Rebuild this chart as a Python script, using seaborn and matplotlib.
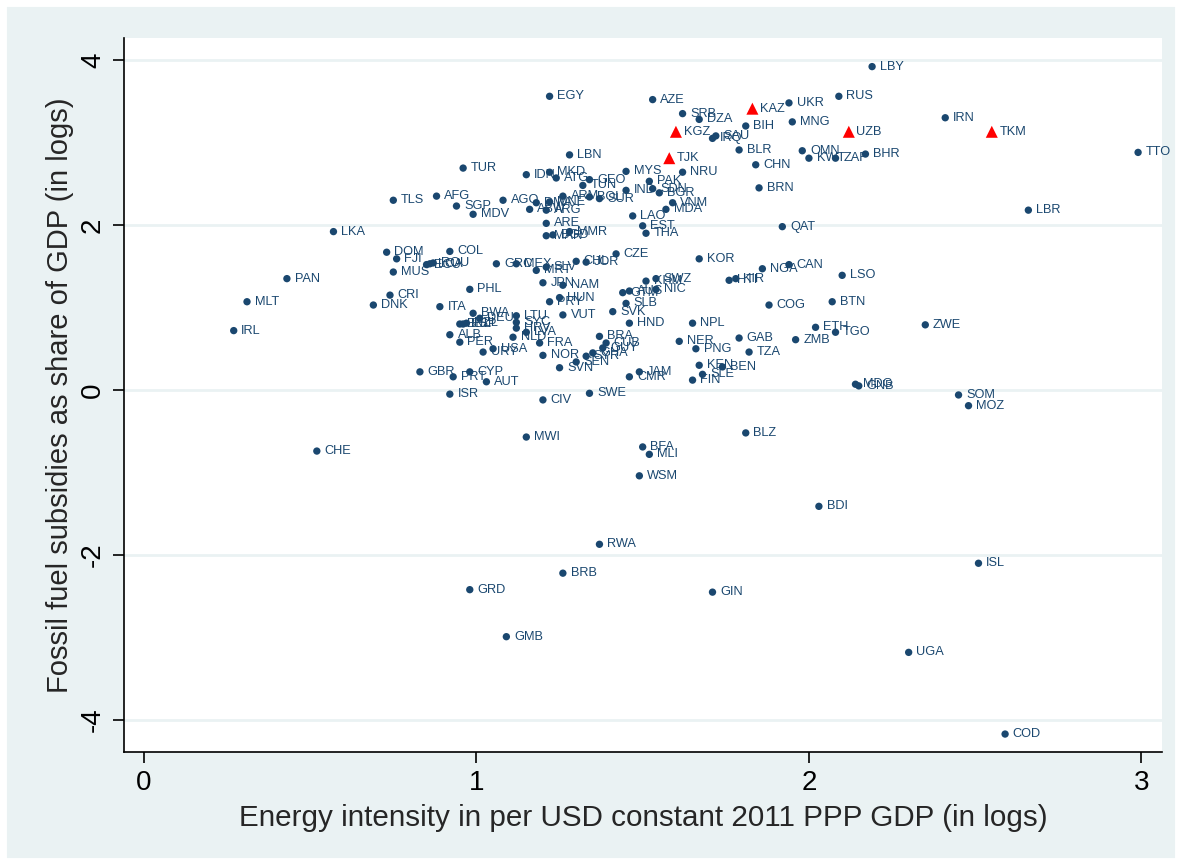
import pandas as pd
import matplotlib.pyplot as plt
import seaborn as sns
from matplotlib.patches import Rectangle

# country codes, energy intensity (x, logs) and fossil fuel subsidies (y, logs)
codes = ['LBY', 'RUS', 'UKR', 'EGY', 'AZE', 'SRB', 'DZA', 'MNG', 'IRN', 'BIH',
         'SAU', 'IRQ', 'BLR', 'OMN', 'TTO', 'KWT', 'ZAF', 'BHR', 'LBN', 'CHN',
         'TUR', 'NRU', 'MYS', 'MKD', 'IDN', 'ATG', 'GEO', 'PAK', 'TUN', 'BRN',
         'IND', 'SDN', 'BGR', 'ARM', 'BOL', 'SUR', 'DMA', 'MNE', 'ABW', 'ARG',
         'VNM', 'MDA', 'AGO', 'AFG', 'TLS', 'SGP', 'MDV', 'LAO', 'EST', 'THA',
         'ARE', 'MAR', 'BGD', 'MMR', 'LKA', 'QAT', 'LBR', 'DOM', 'COL', 'FJI',
         'CZE', 'KOR', 'ECU', 'LCA', 'ROU', 'MUS', 'CRI', 'DNK', 'PAN', 'MLT',
         'IRL', 'CHE', 'GRD', 'GMB', 'BRB', 'RWA', 'GIN', 'UGA', 'COD', 'ISL',
         'BDI', 'BLZ', 'SOM', 'MOZ', 'MDG', 'GNB', 'ZWE', 'MWI', 'BFA', 'MLI',
         'WSM', 'CIV', 'SWE', 'ISR', 'GBR', 'PRT', 'CYP', 'AUT', 'CMR', 'JAM',
         'FIN', 'SLE', 'KEN', 'BEN', 'PNG', 'TZA', 'GAB', 'ZMB', 'ETH', 'TGO',
         'NER', 'NPL', 'COG', 'BTN', 'LSO', 'NGA', 'CAN', 'HTI', 'KIR', 'HND',
         'SVK', 'SLB', 'GTM', 'AUS', 'NIC', 'KHM', 'SWZ', 'HUN', 'PRY', 'JPN',
         'NAM', 'VUT', 'GRC', 'MEX', 'MRT', 'SLV', 'CHL', 'JOR', 'PHL', 'ITA',
         'BWA', 'DEU', 'LTU', 'SYC', 'HRV', 'BEL', 'ESP', 'NZL', 'ALB', 'PER',
         'URY', 'USA', 'NLD', 'LVA', 'FRA', 'NOR', 'SVN', 'SEN', 'BRA', 'CUB',
         'GUY', 'GHA', 'SYR']
energy = [2.19, 2.09, 1.94, 1.22, 1.53, 1.62, 1.67, 1.95, 2.41, 1.81,
          1.72, 1.71, 1.79, 1.98, 2.99, 2.00, 2.08, 2.17, 1.28, 1.84,
          0.96, 1.62, 1.45, 1.22, 1.15, 1.24, 1.34, 1.52, 1.32, 1.85,
          1.45, 1.53, 1.55, 1.26, 1.34, 1.37, 1.18, 1.22, 1.16, 1.21,
          1.59, 1.57, 1.08, 0.88, 0.75, 0.94, 0.99, 1.47, 1.50, 1.51,
          1.21, 1.21, 1.23, 1.28, 0.57, 1.92, 2.66, 0.73, 0.92, 0.76,
          1.42, 1.67, 0.85, 0.86, 0.87, 0.75, 0.74, 0.69, 0.43, 0.31,
          0.27, 0.52, 0.98, 1.09, 1.26, 1.37, 1.71, 2.30, 2.59, 2.51,
          2.03, 1.81, 2.45, 2.48, 2.14, 2.15, 2.35, 1.15, 1.50, 1.52,
          1.49, 1.20, 1.34, 0.92, 0.83, 0.93, 0.98, 1.03, 1.46, 1.49,
          1.65, 1.68, 1.67, 1.74, 1.66, 1.82, 1.79, 1.96, 2.02, 2.08,
          1.61, 1.65, 1.88, 2.07, 2.10, 1.86, 1.94, 1.76, 1.78, 1.46,
          1.41, 1.45, 1.44, 1.46, 1.54, 1.51, 1.54, 1.25, 1.22, 1.20,
          1.26, 1.26, 1.06, 1.12, 1.18, 1.21, 1.30, 1.33, 0.98, 0.89,
          0.99, 1.01, 1.12, 1.12, 1.12, 0.95, 0.96, 0.97, 0.92, 0.95,
          1.02, 1.05, 1.11, 1.15, 1.19, 1.20, 1.25, 1.30, 1.37, 1.39,
          1.38, 1.35, 1.33]
subsidy = [3.92, 3.56, 3.48, 3.56, 3.52, 3.35, 3.28, 3.25, 3.30, 3.20,
           3.08, 3.05, 2.91, 2.90, 2.88, 2.81, 2.81, 2.86, 2.85, 2.73,
           2.69, 2.64, 2.65, 2.64, 2.61, 2.57, 2.55, 2.53, 2.48, 2.45,
           2.42, 2.44, 2.39, 2.35, 2.34, 2.32, 2.27, 2.28, 2.19, 2.18,
           2.27, 2.19, 2.30, 2.35, 2.30, 2.23, 2.13, 2.11, 1.99, 1.90,
           2.02, 1.87, 1.88, 1.92, 1.92, 1.98, 2.18, 1.67, 1.68, 1.59,
           1.65, 1.59, 1.52, 1.53, 1.54, 1.43, 1.15, 1.03, 1.35, 1.07,
           0.72, -0.74, -2.42, -2.99, -2.22, -1.87, -2.45, -3.18, -4.17, -2.10,
           -1.41, -0.52, -0.06, -0.19, 0.07, 0.05, 0.79, -0.57, -0.69, -0.78,
           -1.04, -0.12, -0.04, -0.05, 0.22, 0.16, 0.22, 0.10, 0.16, 0.22,
           0.12, 0.19, 0.30, 0.28, 0.50, 0.46, 0.63, 0.61, 0.76, 0.70,
           0.59, 0.81, 1.03, 1.07, 1.39, 1.47, 1.52, 1.33, 1.35, 0.81,
           0.95, 1.05, 1.18, 1.20, 1.22, 1.32, 1.35, 1.12, 1.07, 1.30,
           1.27, 0.91, 1.53, 1.53, 1.45, 1.49, 1.56, 1.55, 1.22, 1.01,
           0.93, 0.87, 0.90, 0.82, 0.75, 0.80, 0.80, 0.81, 0.67, 0.58,
           0.46, 0.50, 0.64, 0.70, 0.57, 0.42, 0.27, 0.34, 0.65, 0.57,
           0.51, 0.45, 0.41]

# highlighted (Central Asian) countries drawn as red triangles
tri_codes = ['KAZ', 'KGZ', 'UZB', 'TKM', 'TJK']
tri_energy = [1.83, 1.60, 2.12, 2.55, 1.58]
tri_subsidy = [3.41, 3.13, 3.13, 3.13, 2.81]

x_ticks = [0, 1, 2, 3]
y_ticks = [-4, -2, 0, 2, 4]

navy = '#1a476f'
bg = '#eaf2f3'

df = pd.DataFrame({'code': codes + tri_codes,
                   'energy': energy + tri_energy,
                   'subsidy': subsidy + tri_subsidy,
                   'group': ['other'] * len(codes) + ['central'] * len(tri_codes)})

sns.set_theme(style='white')
plt.rcParams['font.family'] = ['Liberation Sans', 'DejaVu Sans']

fig = plt.figure(figsize=(11.82, 8.65), dpi=100, facecolor=bg)
fig.patches.append(Rectangle((0, 0), 1, 1, transform=fig.transFigure, fill=False,
                             edgecolor='white', linewidth=10, zorder=0))
ax = fig.add_axes([0.1049, 0.1306, 0.8782, 0.8255])
ax.set_facecolor('white')

sns.scatterplot(data=df, x='energy', y='subsidy', hue='group', style='group',
                palette={'other': navy, 'central': 'red'},
                markers={'other': 'o', 'central': '^'},
                size='group', sizes={'other': 28, 'central': 75},
                linewidth=0, legend=False, ax=ax, zorder=3)

for _, r in df.iterrows():
    ax.annotate(r['code'], (r['energy'], r['subsidy']), xytext=(5.5, 0),
                textcoords='offset points', va='center', ha='left',
                fontsize=9.2, color=navy, zorder=4)

ax.set_xlim(-0.06, 3.062)
ax.set_ylim(-4.388, 4.267)
ax.set_xticks(x_ticks)
ax.set_yticks(y_ticks)
ax.set_yticklabels([str(t) for t in y_ticks], rotation=90, va='center')
ax.tick_params(axis='both', direction='out', length=8, width=1.2, colors='black',
               labelsize=20, pad=5, left=True, bottom=True)
for t in y_ticks:
    ax.axhline(t, color=bg, linewidth=2, zorder=1)
for s in ['top', 'right']:
    ax.spines[s].set_visible(False)
for s in ['left', 'bottom']:
    ax.spines[s].set_color('black')
    ax.spines[s].set_linewidth(1.2)

ax.set_xlabel('Energy intensity in per USD constant 2011 PPP GDP (in logs)', fontsize=21.3, labelpad=6)
ax.set_ylabel('Fossil fuel subsidies as share of GDP (in logs)', fontsize=21, labelpad=4)

fig.savefig('out.png', dpi=100, facecolor=bg)
